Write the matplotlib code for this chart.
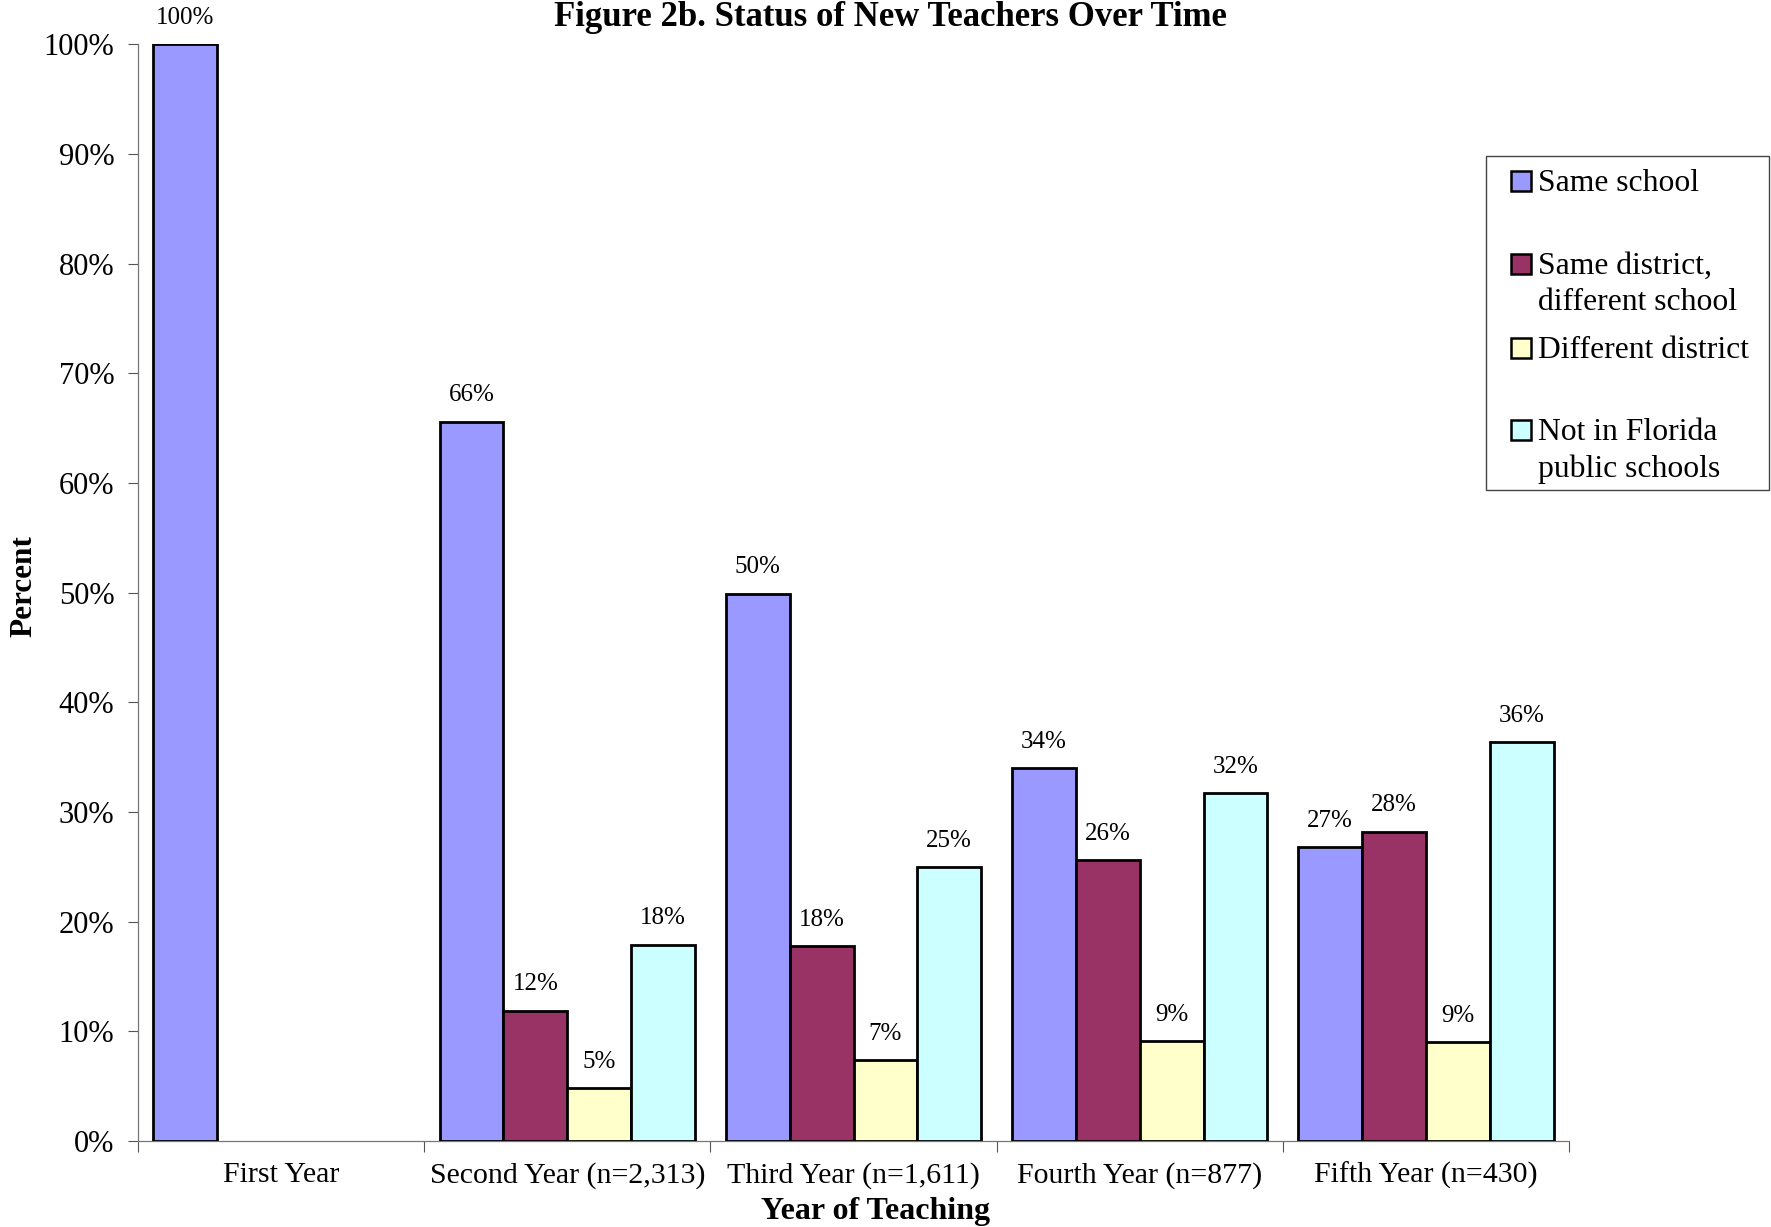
import numpy as np
import matplotlib
matplotlib.use("Agg")
import matplotlib.pyplot as plt
from matplotlib.patches import Rectangle
from matplotlib.ticker import FuncFormatter, FixedLocator

plt.rcParams["font.family"] = ["Liberation Serif", "DejaVu Serif"]

# data
years = ["First Year", "Second Year (n=2,313)", "Third Year (n=1,611)",
         "Fourth Year (n=877)", "Fifth Year (n=430)"]
series = ["Same school", "Same district,\ndifferent school",
          "Different district", "Not in Florida\npublic schools"]
same_school = [100.0, 65.6, 49.9, 34.0, 26.8]
same_district = [np.nan, 11.9, 17.8, 25.6, 28.2]
diff_district = [np.nan, 4.8, 7.4, 9.1, 9.0]
not_florida = [np.nan, 17.9, 25.0, 31.7, 36.4]
colors = ["#9999FF", "#993366", "#FFFFCC", "#CCFFFF"]

values = [same_school, same_district, diff_district, not_florida]

fig = plt.figure(figsize=(17.71, 12.27), dpi=100)
ax = fig.add_axes([0.0779, 0.070, 0.886 - 0.0779, 0.964 - 0.070])

x = np.arange(len(years))
width = 0.223
for i, (vals, col) in enumerate(zip(values, colors)):
    vals = np.array(vals)
    ok = ~np.isnan(vals)
    pos = x[ok] + (i - 1.5) * width
    bars = ax.bar(pos, vals[ok], width, color=col, edgecolor="black",
                  linewidth=2.0, zorder=3)
    for b, v in zip(bars, vals[ok]):
        ax.annotate(f"{v:.0f}%", (b.get_x() + b.get_width() / 2, v),
                    xytext=(0, 11), textcoords="offset points",
                    ha="center", va="bottom", fontsize=18)

ax.set_xlim(-0.5, len(years) - 0.5)
ax.set_ylim(0, 100)
ax.set_yticks(np.arange(0, 101, 10))
ax.yaxis.set_major_formatter(FuncFormatter(lambda v, p: f"{v:.0f}%"))
ax.tick_params(axis="y", labelsize=22, length=7, width=0.8,
               color="#555555", pad=10)

ax.set_xticks(x)
ax.set_xticklabels(years)
ax.xaxis.set_minor_locator(FixedLocator(np.arange(-0.5, len(years), 1.0)))
ax.tick_params(axis="x", which="major", length=0, labelsize=21.5, pad=15)
ax.tick_params(axis="x", which="minor", length=8, width=0.8,
               color="#555555")

for s in ["top", "right"]:
    ax.spines[s].set_visible(False)
for s in ["left", "bottom"]:
    ax.spines[s].set_color("#777777")
    ax.spines[s].set_linewidth(0.9)

fig.text(0.503, 0.9785, "Figure 2b. Status of New Teachers Over Time",
         ha="center", va="baseline", fontsize=25, fontweight="bold")
fig.text(0.0135, 0.522, "Percent", rotation=90, ha="center", va="center",
         fontsize=22.5, fontweight="bold")
fig.text(0.4946, 0.0125, "Year of Teaching", ha="center", va="center",
         fontsize=23, fontweight="bold")

# legend drawn by hand, Excel style
fig.patches.append(Rectangle((0.839, 0.601), 0.16, 0.272,
                             transform=fig.transFigure, facecolor="white",
                             edgecolor="#444444", linewidth=1.0))
entry_y = [0.8525, 0.785, 0.7164, 0.6495]
for lab, col, yy in zip(series, colors, entry_y):
    fig.patches.append(Rectangle((0.853, yy - 0.0082), 0.0113, 0.0163,
                                 transform=fig.transFigure, facecolor=col,
                                 edgecolor="black", linewidth=1.8))
    fig.text(0.8686, yy + 0.0095, lab, ha="left", va="top", fontsize=22.8,
             linespacing=1.3)

fig.savefig("out.png", dpi=100)
